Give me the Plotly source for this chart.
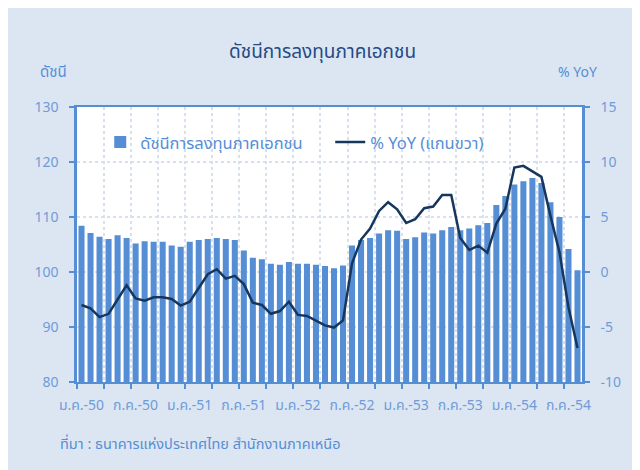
import plotly.graph_objects as go

# ---- data ----
index_values = [108.4, 107.1, 106.4, 106.0, 106.7, 106.2, 105.2, 105.6, 105.5, 105.5,
                104.8, 104.6, 105.5, 105.8, 106.0, 106.2, 106.0, 105.8, 103.9, 102.6,
                102.3, 101.5, 101.3, 101.8, 101.5, 101.5, 101.3, 101.1, 100.7, 101.2,
                104.8, 105.8, 106.2, 107.0, 107.6, 107.5, 106.0, 106.3, 107.2, 107.0,
                107.6, 108.2, 107.6, 107.9, 108.5, 108.9, 112.2, 113.8, 115.9, 116.5,
                117.1, 116.2, 112.7, 110.0, 104.2, 100.3]
yoy_values = [-3.0, -3.3, -4.1, -3.8, -2.5, -1.2, -2.4, -2.6, -2.3, -2.3,
              -2.45, -3.05, -2.7, -1.5, -0.2, 0.25, -0.6, -0.35, -1.1, -2.8,
              -3.0, -3.8, -3.55, -2.7, -3.9, -4.0, -4.4, -4.85, -5.05, -4.4,
              0.8, 2.95, 3.95, 5.55, 6.35, 5.7, 4.45, 4.8, 5.8, 5.95,
              7.0, 7.0, 3.1, 2.0, 2.4, 1.75, 4.4, 5.75, 9.5, 9.65,
              9.15, 8.65, 5.1, 1.8, -3.2, -6.9]
tick_labels = ["ม.ค.-50", "ก.ค.-50", "ม.ค.-51", "ก.ค.-51", "ม.ค.-52",
               "ก.ค.-52", "ม.ค.-53", "ก.ค.-53", "ม.ค.-54", "ก.ค.-54"]
label_step = 6
bar_name = "ดัชนีการลงทุนภาคเอกชน"
line_name = "% YoY (แกนขวา)"

months = list(range(len(index_values)))
tick_vals = [i * label_step for i in range(len(tick_labels))]

FONT = "Tahoma, 'Noto Sans Thai', 'Noto Sans', sans-serif"
AXIS = "#558ed5"
TICKTXT = "#6f9bd8"
GRID = "#d5e1f1"
BG = "#dce6f2"

fig = go.Figure()
fig.add_trace(go.Bar(x=months, y=index_values, name=bar_name,
                     marker=dict(color="#558ed5", line=dict(width=0)), yaxis="y"))
fig.add_trace(go.Scatter(x=months, y=yoy_values, name=line_name, mode="lines",
                         line=dict(color="#17365d", width=2.5), yaxis="y2"))

fig.update_layout(
    width=640, height=470,
    margin=dict(l=69, r=66, t=99, b=96),
    paper_bgcolor=BG, plot_bgcolor="white",
    font=dict(family=FONT, color=TICKTXT, size=13),
    bargap=0.33,
    showlegend=True,
    legend=dict(orientation="h", x=0.046, y=0.935, xanchor="left", yanchor="top",
                bgcolor="rgba(255,255,255,0)", font=dict(size=16.5, color="#558ed5"),
                itemwidth=30, entrywidth=185, traceorder="normal"),
    xaxis=dict(range=[-0.5, len(months) - 0.5], tickvals=tick_vals, ticktext=tick_labels,
               ticks="", showgrid=False, zeroline=False, ticklabelstandoff=9,
               showline=True, linecolor=AXIS, linewidth=2, mirror=True,
               tickfont=dict(size=14, color=TICKTXT),
               minor=dict(tick0=-0.5, dtick=3, ticks="outside", ticklen=5, tickcolor=AXIS,
                          tickwidth=1.5, showgrid=True, gridcolor=GRID, griddash="dot",
                          gridwidth=1.5)),
    yaxis=dict(range=[80, 130], dtick=10, ticks="outside", ticklen=5, tickcolor=AXIS,
               tickwidth=2, showline=True, linecolor=AXIS, linewidth=2.5, mirror=True,
               showgrid=True, gridcolor=GRID, griddash="dot", gridwidth=1.5,
               zeroline=False, ticklabelstandoff=8, tickfont=dict(size=14, color=TICKTXT)),
    yaxis2=dict(range=[-10, 15], dtick=5, overlaying="y", side="right",
                ticks="outside", ticklen=5, tickcolor=AXIS, tickwidth=2,
                showline=True, linecolor=AXIS, linewidth=2.5, showgrid=False,
                zeroline=False, ticklabelstandoff=8, tickfont=dict(size=14, color=TICKTXT)),
)

def px(X):
    return (X - 77) / 505

def py(Y):
    return (382 - Y) / 275

fig.add_annotation(text="ดัชนีการลงทุนภาคเอกชน", x=px(322), y=py(52), xref="paper", yref="paper",
                   xanchor="center", yanchor="middle", showarrow=False,
                   font=dict(size=19, color="#264a85"))
fig.add_annotation(text="ดัชนี", x=px(53), y=py(72), xref="paper", yref="paper",
                   xanchor="center", yanchor="middle", showarrow=False,
                   font=dict(size=15, color="#558ed5"))
fig.add_annotation(text="% YoY", x=px(577), y=py(72), xref="paper", yref="paper",
                   xanchor="center", yanchor="middle", showarrow=False,
                   font=dict(size=14, color="#558ed5"))
fig.add_annotation(text="ที่มา : ธนาคารแห่งประเทศไทย สำนักงานภาคเหนือ", x=px(58), y=py(445),
                   xref="paper", yref="paper", xanchor="left", yanchor="middle",
                   showarrow=False, font=dict(size=14.5, color="#558ed5"))

fig.write_html("out.html")
